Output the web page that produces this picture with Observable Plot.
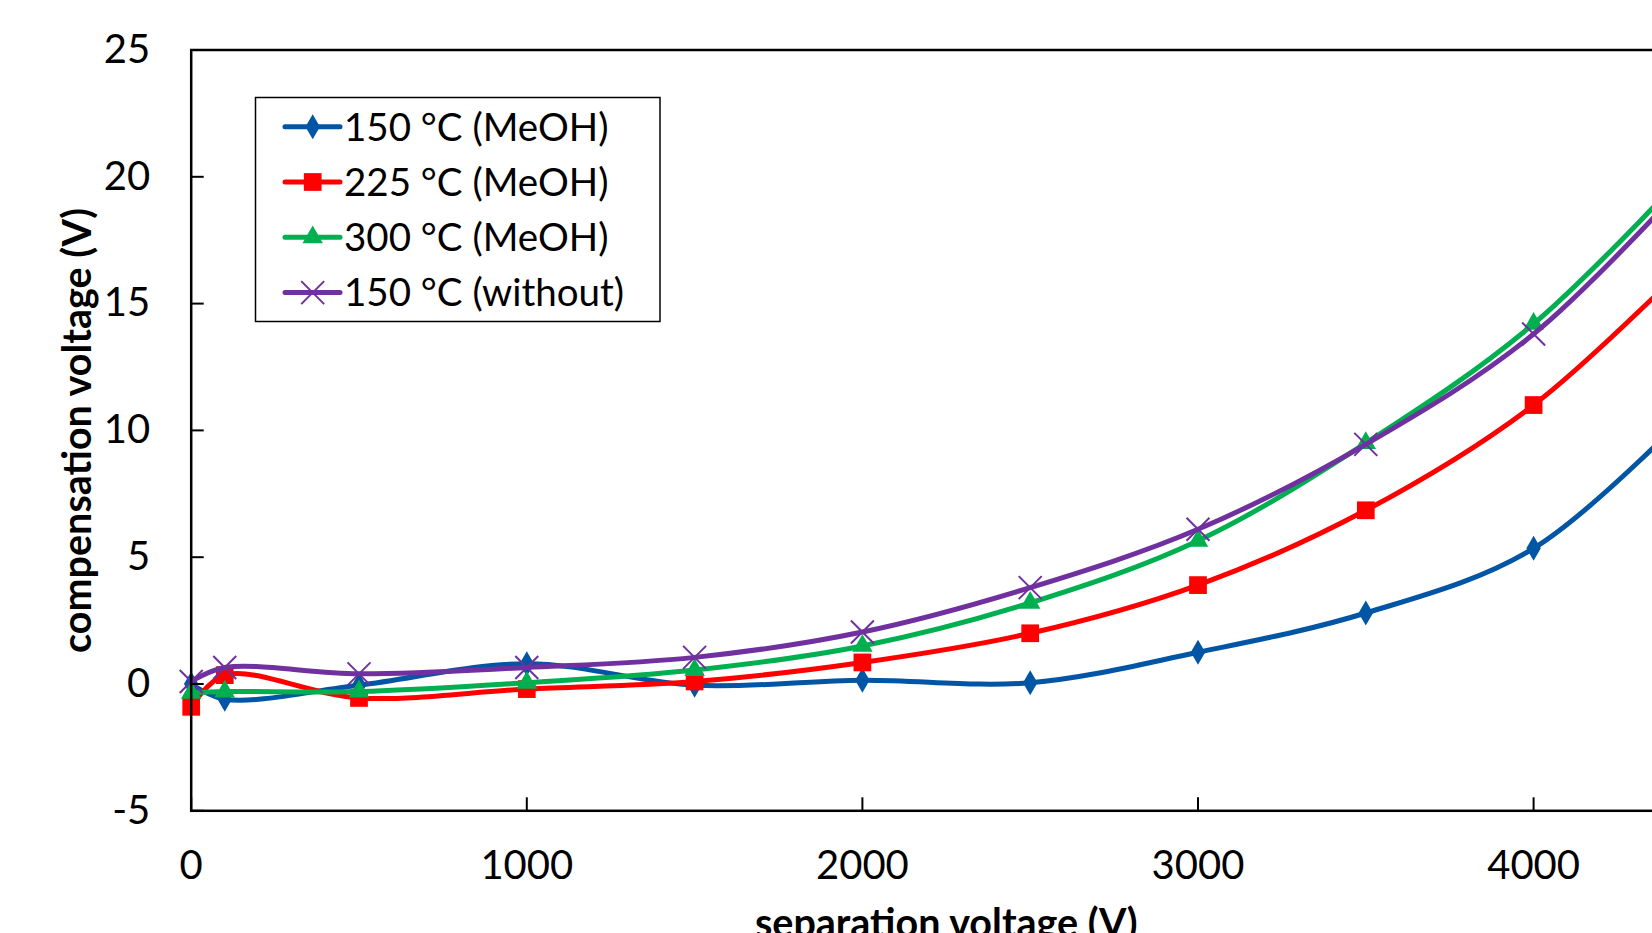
<!DOCTYPE html>
<html>
<head>
<meta charset="utf-8">
<script src="https://cdn.jsdelivr.net/npm/d3@7"></script>
<script src="https://cdn.jsdelivr.net/npm/@observablehq/plot@0.6"></script>
<style>
  html, body { margin: 0; padding: 0; overflow: hidden; background: #fff; }
  #chart { position: relative; width: 1652px; height: 933px; overflow: hidden; }
  #chart svg { display: block; max-width: none !important; }
  #legend { position: absolute; left: 0; top: 0; pointer-events: none; }
</style>
</head>
<body>
<div id="chart"></div>
<script>
// Separation voltage (V) at which the compensation voltage was measured
const separationVoltage = [0, 100, 500, 1000, 1500, 2000, 2500, 3000, 3500, 4000, 4500];

// Compensation voltage (V) for each condition
const cv150MeOH   = [0.0, -0.6, -0.05, 0.8, -0.05, 0.15, 0.05, 1.25, 2.8, 5.35, 11.2];
const cv225MeOH   = [-0.9, 0.35, -0.55, -0.2, 0.1, 0.85, 2.0, 3.9, 6.85, 11.0, 17.1];
const cv300MeOH   = [-0.35, -0.3, -0.3, 0.05, 0.55, 1.5, 3.2, 5.65, 9.5, 14.2, 20.8];
const cv150Without = [0.1, 0.65, 0.4, 0.65, 1.05, 2.05, 3.8, 6.1, 9.45, 13.8, 20.4];

const seriesNames   = ["150 °C (MeOH)", "225 °C (MeOH)", "300 °C (MeOH)", "150 °C (without)"];
const seriesValues  = [cv150MeOH, cv225MeOH, cv300MeOH, cv150Without];
const seriesColors  = ["#0055a4", "#ff0000", "#00b050", "#7030a0"];
const seriesSymbols = ["diamond", "square", "triangle", "times"];
const markerRadius  = [7.6, 10, 7.6, 10.5];

const xTicks = [0, 1000, 2000, 3000, 4000];
const yTicks = [-5, 0, 5, 10, 15, 20, 25];

const fontFamily = "Lato, 'Open Sans', sans-serif";

// one line + markers per series, drawn in series order
const seriesMarks = seriesNames.flatMap((name, s) => {
  const rows = separationVoltage.map((v, i) => ({sv: v, cv: seriesValues[s][i], series: name}));
  const color = seriesColors[s];
  const sym = seriesSymbols[s];
  const dotOpts = sym === "times"
    ? {x: "sv", y: "cv", symbol: sym, r: markerRadius[s], stroke: color, strokeWidth: 2, fill: "none"}
    : {x: "sv", y: "cv", symbol: sym, r: markerRadius[s], fill: color, stroke: "none"};
  return [
    Plot.line(rows, {x: "sv", y: "cv", stroke: color, strokeWidth: 5, curve: "catmull-rom"}),
    Plot.dot(rows, dotOpts)
  ];
});

const chart = Plot.plot({
  width: 1720,
  height: 960,
  marginLeft: 190.7,
  marginRight: 19.1,
  marginTop: 49.5,
  marginBottom: 149.7,
  style: {fontFamily, color: "#000", background: "#fff", overflow: "visible", maxWidth: "none"},
  x: {domain: [0, 4500], label: null},
  y: {domain: [-5, 25], label: null},
  marks: [
    ...seriesMarks,
    Plot.frame({stroke: "#000", strokeWidth: 2.5}),
    Plot.axisX({ticks: xTicks, anchor: "bottom", tickSize: -13, tickPadding: 53, strokeWidth: 2,
      fontSize: 40, label: null, tickFormat: d => String(d)}),
    Plot.axisY({ticks: yTicks, anchor: "left", tickSize: -13, tickPadding: 54, strokeWidth: 2,
      fontSize: 40, label: null, tickFormat: d => String(d)}),
    Plot.text(["compensation voltage (V)"], {text: d => d, frameAnchor: "left", textAnchor: "middle",
      rotate: -90, dx: -113, fontSize: 39.5, fontWeight: "bold"}),
    Plot.text(["separation voltage (V)"], {text: d => d, frameAnchor: "bottom", textAnchor: "middle",
      dy: 98, lineAnchor: "top", fontSize: 39.5, fontWeight: "bold"})
  ]
});

const host = document.getElementById("chart");
host.appendChild(chart);

// legend box inside the plot area, top left
const legend = d3.select(host).append("svg")
  .attr("id", "legend")
  .attr("width", 1652)
  .attr("height", 933)
  .style("font-family", fontFamily);

legend.append("rect")
  .attr("x", 255.5).attr("y", 97.5)
  .attr("width", 404.5).attr("height", 224)
  .attr("fill", "#fff").attr("stroke", "#000").attr("stroke-width", 1.5);

const d3Symbols = {diamond: d3.symbolDiamond, square: d3.symbolSquare, triangle: d3.symbolTriangle, times: d3.symbolTimes};

seriesNames.forEach((name, s) => {
  const cy = 126.7 + s * 55.3;
  const g = legend.append("g");
  g.append("line")
    .attr("x1", 285).attr("x2", 340).attr("y1", cy).attr("y2", cy)
    .attr("stroke", seriesColors[s]).attr("stroke-width", 5).attr("stroke-linecap", "round");
  const path = d3.symbol(d3Symbols[seriesSymbols[s]], Math.PI * markerRadius[s] ** 2)();
  const marker = g.append("path")
    .attr("d", path)
    .attr("transform", `translate(312.7,${cy})`);
  if (seriesSymbols[s] === "times") {
    marker.attr("fill", "none").attr("stroke", seriesColors[s]).attr("stroke-width", 2);
  } else {
    marker.attr("fill", seriesColors[s]);
  }
  g.append("text")
    .attr("x", 344).attr("y", cy).attr("dy", "0.36em")
    .attr("font-size", 38.5)
    .attr("fill", "#000")
    .text(name);
});
</script>
</body>
</html>
